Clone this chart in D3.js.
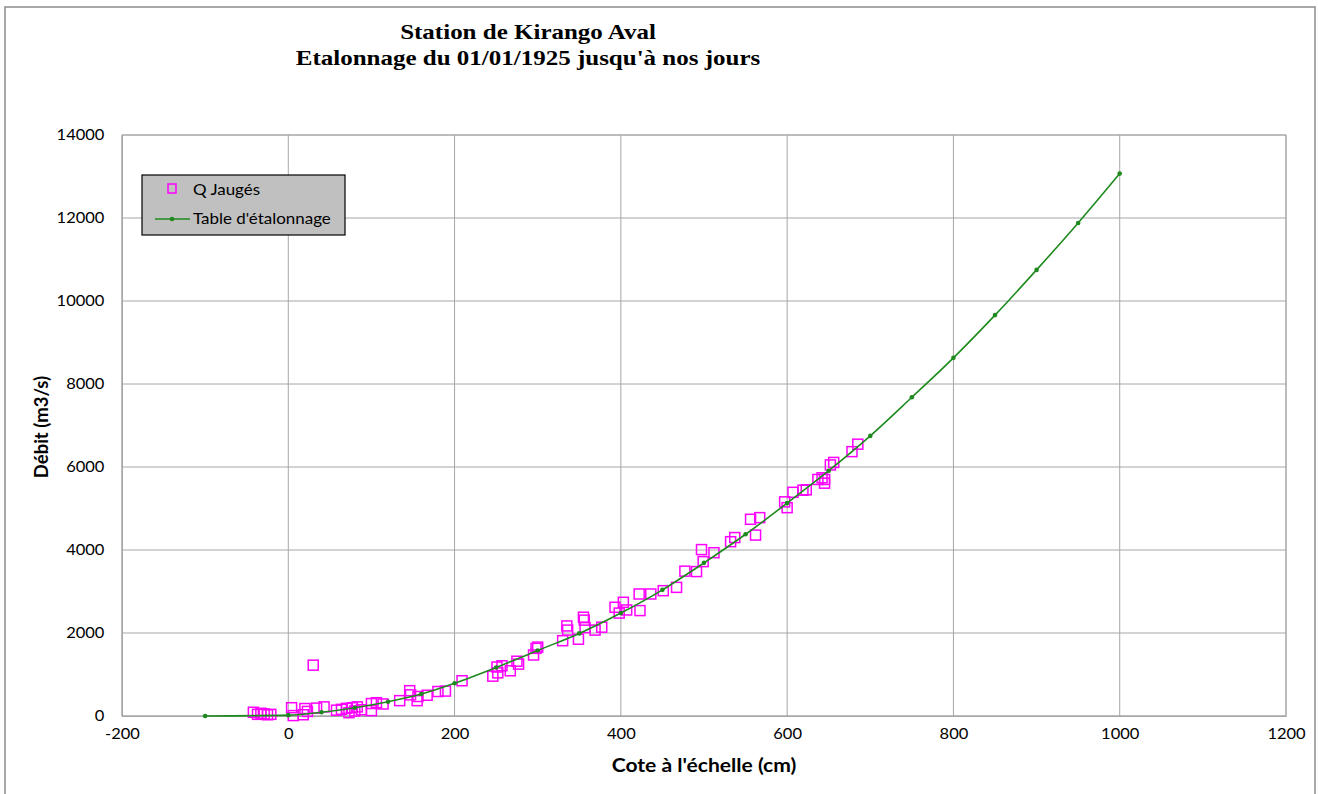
<!DOCTYPE html>
<html>
<head>
<meta charset="utf-8">
<script src="https://cdn.jsdelivr.net/npm/d3@7"></script>
<style>
  html, body { margin: 0; padding: 0; background: #fff; }
  svg { display: block; }
</style>
</head>
<body>
<svg id="chart" width="1318" height="794"></svg>
<script>
// ---- Data ----
const titleLines = ["Station de Kirango Aval", "Etalonnage du 01/01/1925 jusqu'à nos jours"];
const xTicks = [-200, 0, 200, 400, 600, 800, 1000, 1200];
const yTicks = [0, 2000, 4000, 6000, 8000, 10000, 12000, 14000];

// Q Jaugés (cote cm, débit m3/s)
const jaugeCote = [-42,-37,-33,-29,-25,-21,4,6,18,20,23,30,34,43,58,64,70,73,77,80,83,88,100,100,106,114,134,146,147,155,156,167,180,189,
  209,246,251,252,257,267,275,277,295,298,300,330,335,336,349,355,356,357,369,377,393,398,403,407,422,423,436,451,467,477,491,497,499,
  512,532,537,556,562,567,597,600,607,619,623,637,642,645,645,652,656,678,685];
const jaugeDebit = [90,40,65,50,30,40,200,10,30,180,110,1225,190,220,140,160,185,80,200,120,220,150,300,130,320,290,370,610,510,370,470,500,590,600,
  850,960,1180,1040,1210,1090,1320,1250,1470,1630,1660,1815,2170,2070,1850,2380,2310,2130,2070,2140,2620,2480,2740,2555,2940,2540,2940,3020,3100,3490,3480,4010,3720,
  3935,4200,4300,4740,4360,4780,5160,5020,5390,5440,5450,5700,5740,5700,5610,6050,6110,6370,6550];

// Table d'étalonnage
const tableCote = [-100, 0, 40, 80, 120, 160, 200, 250, 300, 350, 400, 450, 500, 550, 600, 650, 700, 750, 800, 850, 900, 950, 1000];
const tableDebit = [0, 20, 90, 200, 345, 530, 790, 1170, 1580, 1990, 2480, 3040, 3690, 4380, 5130, 5910, 6750, 7680, 8630, 9660, 10750, 11880, 13070];

// ---- Layout ----
const svg = d3.select("#chart");
const pLeft = 122, pRight = 1286, pTop = 135, pBottom = 716;
const x = d3.scaleLinear().domain([-200, 1200]).range([pLeft, pRight]);
const y = d3.scaleLinear().domain([0, 14000]).range([pBottom, pTop]);

const labelFont = "Lato, 'Open Sans', sans-serif";
const plainFmt = d => String(d);

// outer frame
svg.append("rect").attr("x", 5).attr("y", 7).attr("width", 1310).attr("height", 800)
  .attr("fill", "#fff").attr("stroke", "#8c8c8c").attr("stroke-width", 1.5);

// title
const t = svg.append("text").attr("text-anchor", "middle")
  .attr("transform", "translate(528,0) scale(1.19,1)")
  .attr("font-family", "'Liberation Serif', 'Times New Roman', serif")
  .attr("font-weight", "bold").attr("font-size", 21).attr("fill", "#000");
t.append("tspan").attr("x", 0).attr("y", 39).text(titleLines[0]);
t.append("tspan").attr("x", 0).attr("y", 65).text(titleLines[1]);

// grid
const grid = svg.append("g");
grid.selectAll(".vg").data(xTicks).enter().append("line")
  .attr("x1", d => x(d)).attr("x2", d => x(d)).attr("y1", pTop).attr("y2", pBottom)
  .attr("stroke", "#a6a6a6").attr("stroke-width", 1);
grid.selectAll(".hg").data(yTicks).enter().append("line")
  .attr("x1", pLeft).attr("x2", pRight).attr("y1", d => y(d)).attr("y2", d => y(d))
  .attr("stroke", "#a6a6a6").attr("stroke-width", 1);

// axes
const xAxis = d3.axisBottom(x).tickValues(xTicks).tickSize(0).tickPadding(10).tickFormat(plainFmt);
const gx = svg.append("g").attr("transform", `translate(0,${pBottom})`).call(xAxis);
gx.select(".domain").attr("stroke", "#a6a6a6");
gx.selectAll("text").attr("font-family", labelFont).attr("font-size", 15).attr("fill", "#000")
  .attr("dy", "0.85em").attr("transform", "scale(1.1,1)");

const yAxis = d3.axisLeft(y).tickValues(yTicks).tickSize(0).tickPadding(16).tickFormat(plainFmt);
const gy = svg.append("g").attr("transform", `translate(${pLeft},0)`).call(yAxis);
gy.select(".domain").attr("stroke", "#a6a6a6");
gy.selectAll("text").attr("font-family", labelFont).attr("font-size", 15).attr("fill", "#000")
  .attr("transform", "scale(1.1,1)");

// plot frame
svg.append("rect").attr("x", pLeft).attr("y", pTop).attr("width", pRight - pLeft).attr("height", pBottom - pTop)
  .attr("fill", "none").attr("stroke", "#a6a6a6").attr("stroke-width", 1);

// axis titles
svg.append("text").attr("transform", "translate(704,772) scale(1.14,1)").attr("text-anchor", "middle")
  .attr("font-family", labelFont).attr("font-weight", "bold").attr("font-size", 18.5)
  .text("Cote à l'échelle (cm)");
svg.append("text").attr("transform", "translate(48,427) rotate(-90)").attr("text-anchor", "middle")
  .attr("font-family", labelFont).attr("font-weight", "bold").attr("font-size", 18.5)
  .text("Débit (m3/s)");

// scatter squares
const ms = 10;
const pts = jaugeCote.map((c, i) => [c, jaugeDebit[i]]);
svg.append("g").selectAll("rect").data(pts).enter().append("rect")
  .attr("x", d => x(d[0]) - ms / 2).attr("y", d => y(d[1]) - ms / 2)
  .attr("width", ms).attr("height", ms)
  .attr("fill", "none").attr("stroke", "#ff00ff").attr("stroke-width", 1.5);

// rating curve
const green = "#1e8a1e";
const tbl = tableCote.map((c, i) => [c, tableDebit[i]]);
svg.append("path").datum(tbl)
  .attr("d", d3.line().x(d => x(d[0])).y(d => y(d[1])).curve(d3.curveMonotoneX))
  .attr("fill", "none").attr("stroke", green).attr("stroke-width", 1.6);
svg.append("g").selectAll("circle").data(tbl).enter().append("circle")
  .attr("cx", d => x(d[0])).attr("cy", d => y(d[1])).attr("r", 2.3).attr("fill", green);

// legend
const lg = svg.append("g");
lg.append("rect").attr("x", 142).attr("y", 175).attr("width", 203).attr("height", 60)
  .attr("fill", "#c0c0c0").attr("stroke", "#000").attr("stroke-width", 1.2);
lg.append("rect").attr("x", 168).attr("y", 184).attr("width", 8).attr("height", 9)
  .attr("fill", "none").attr("stroke", "#ff00ff").attr("stroke-width", 1.5);
lg.append("text").attr("transform", "translate(193,195) scale(1.13,1)").attr("font-family", labelFont).attr("font-size", 15).text("Q Jaugés");
lg.append("line").attr("x1", 155).attr("x2", 190).attr("y1", 219).attr("y2", 219)
  .attr("stroke", green).attr("stroke-width", 1.6);
lg.append("circle").attr("cx", 172).attr("cy", 219).attr("r", 2.3).attr("fill", green);
lg.append("text").attr("transform", "translate(193,224) scale(1.13,1)").attr("font-family", labelFont).attr("font-size", 15).text("Table d'étalonnage");
</script>
</body>
</html>
